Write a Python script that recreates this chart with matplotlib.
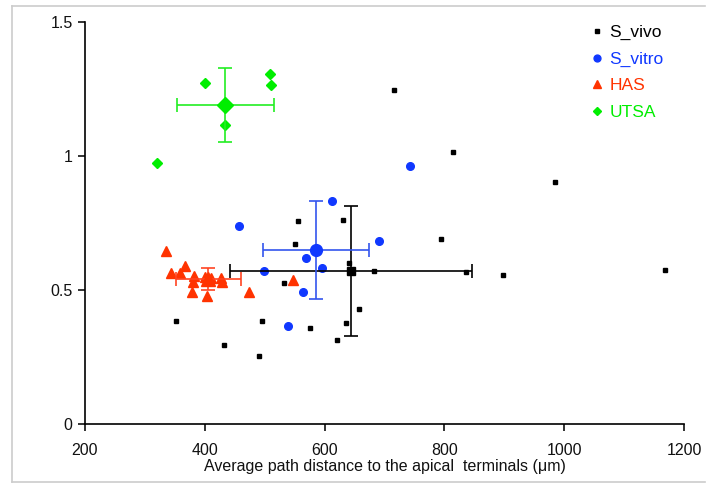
import matplotlib
matplotlib.use("Agg")
import matplotlib.pyplot as plt
from matplotlib.lines import Line2D

plt.rcParams["font.family"] = ["Liberation Sans", "DejaVu Sans"]

# individual cells: (path distance, y value)
vivo_x = [555.6, 630, 551, 641, 682, 532.8, 657.8, 352, 496, 635.5, 576, 621, 432.8, 490,
          715.5, 814.4, 983.9, 793.9, 898.3, 1168.9, 836.7]
vivo_y = [0.757, 0.762, 0.672, 0.602, 0.572, 0.525, 0.429, 0.384, 0.384, 0.377, 0.360, 0.313,
          0.296, 0.255, 1.248, 1.014, 0.904, 0.691, 0.555, 0.575, 0.567]

vitro_x = [457, 690.5, 569.4, 595.5, 498.9, 563.9, 539.4, 612, 742.8]
vitro_y = [0.740, 0.683, 0.619, 0.582, 0.570, 0.494, 0.364, 0.832, 0.964]

has_x = [335.5, 366.7, 342.8, 359.4, 382.2, 380.5, 400, 426.7, 429.4, 378.3, 404.4, 474.4,
         547.8, 410]
has_y = [0.647, 0.591, 0.562, 0.565, 0.553, 0.531, 0.550, 0.546, 0.528, 0.491, 0.478, 0.492,
         0.537, 0.545]

utsa_x = [400.5, 508.9, 510.5, 434.4, 320.5]
utsa_y = [1.272, 1.306, 1.266, 1.117, 0.975]

# group means with errors
groups = ["S_vivo", "S_vitro", "HAS", "UTSA"]
mean_x = [644.4, 586, 406, 434.4]
mean_y = [0.571, 0.649, 0.541, 1.190]
err_x = [202, 88.5, 53.7, 80.5]
err_y = [0.243, 0.182, 0.042, 0.138]

colors = ["#000000", "#1038ff", "#ff3300", "#00ee00"]
bar_colors = ["#000000", "#3355ee", "#ff4422", "#22ee22"]
markers = ["s", "o", "^", "D"]
small_ms = [3, 5.5, 7, 5]
big_ms = [6, 8.5, 10, 8]

fig = plt.figure(figsize=(7.08, 4.88), dpi=100)
ax = fig.add_axes([85 / 708, 1 - 424 / 488, 599 / 708, 402 / 488])

points = [(vivo_x, vivo_y), (vitro_x, vitro_y), (has_x, has_y), (utsa_x, utsa_y)]
handles = []
for i, (xs, ys) in enumerate(points):
    ax.plot(xs, ys, linestyle="none", marker=markers[i], ms=small_ms[i],
            color=colors[i], mec=colors[i], zorder=3)
    ax.errorbar(mean_x[i], mean_y[i], xerr=err_x[i], yerr=err_y[i], fmt=markers[i],
                ms=big_ms[i], color=colors[i], ecolor=bar_colors[i], elinewidth=1.2,
                capsize=5, capthick=1.2, zorder=4)
    handles.append(Line2D([], [], linestyle="none", marker=markers[i], ms=small_ms[i] * 0.9,
                          color=colors[i], label=groups[i]))

ax.set_xlim(200, 1200)
ax.set_ylim(0, 1.5)
ax.set_xticks([200, 400, 600, 800, 1000, 1200])
ax.set_yticks([0, 0.5, 1, 1.5])
ax.set_yticklabels(["0", "0.5", "1", "1.5"])
ax.tick_params(axis="both", direction="out", length=5, width=1.2, labelsize=11.5,
               colors="#111111")
ax.tick_params(axis="x", pad=8.5)
ax.tick_params(axis="y", pad=4)
for s in ["top", "right"]:
    ax.spines[s].set_visible(False)
for s in ["left", "bottom"]:
    ax.spines[s].set_linewidth(1.2)

ax.set_xlabel("Average path distance to the apical  terminals (\u03bcm)", fontsize=11.5,
              labelpad=1, color="#111111")

leg = ax.legend(handles=handles, loc="upper left", bbox_to_anchor=(0.846, 0.993),
                frameon=False, fontsize=12.5, handlelength=0.6, handletextpad=0.42,
                labelspacing=0.66, borderpad=0, borderaxespad=0, labelcolor="linecolor")

# slide frame
frame = dict(color="#cccccc", linewidth=1.2, transform=fig.transFigure)
fig.add_artist(Line2D([12 / 708, 12 / 708], [1 - 6 / 488, 1 - 482 / 488], **frame))
fig.add_artist(Line2D([12 / 708, 705 / 708], [1 - 6 / 488, 1 - 6 / 488], **frame))
fig.add_artist(Line2D([12 / 708, 705 / 708], [1 - 482 / 488, 1 - 482 / 488], **frame))

plt.savefig("out.png", dpi=100)
plt.close(fig)
